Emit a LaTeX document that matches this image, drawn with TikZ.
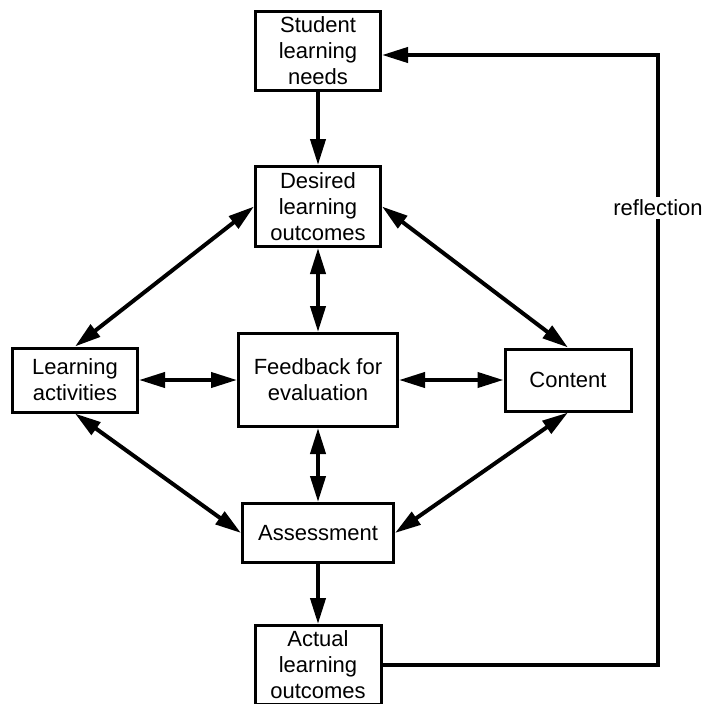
\documentclass[tikz,border=0pt]{standalone}
\usepackage{fontspec}
\setmainfont{Liberation Sans}
\usetikzlibrary{arrows.meta,positioning}

\begin{document}
\begin{tikzpicture}[x=1pt,y=-1pt,on grid,font=\fontsize{22}{26}\selectfont,>={Triangle[length=26pt,width=15pt]}]
	\tikzstyle{box}=[draw,line width=3pt,align=center,inner sep=0pt]
	\tikzstyle{link}=[line width=4pt]
	\useasboundingbox (0,0) rectangle (704,704);
	
	\node[box,minimum width=125pt,minimum height=79pt]  (SLN) at (318,51)              {Student\\learning\\needs};
	\node[box,minimum width=125pt,minimum height=80pt]  (DLO) [below=155.5pt of SLN]   {Desired\\learning\\outcomes};
	\node[box,minimum width=159pt,minimum height=93pt]  (FFE) [below=173.5pt of DLO]   {Feedback for\\evaluation};
	\node[box,minimum width=125pt,minimum height=64pt]  (LA)  [left=243pt of FFE]      {Learning\\activities};
	\node[box,minimum width=126pt,minimum height=62pt]  (CON) [right=250pt of FFE]     {Content};
	\node[box,minimum width=151pt,minimum height=59pt]  (ASM) [below=153pt of FFE]     {Assessment};
	\node[box,minimum width=126pt,minimum height=79pt]  (ALO) [below=132pt of ASM]     {Actual\\learning\\outcomes};
	\coordinate (RC) at (658,55);
	
	\draw[link,->] (SLN) -- (DLO);
	\draw[link,<->] (DLO) -- (FFE);
	\draw[link,<->] (FFE) -- (ASM);
	\draw[link,<->] (LA) -- (FFE);
	\draw[link,<->] (FFE) -- (CON);
	\draw[link,<->] (LA.north) -- (DLO.west);
	\draw[link,<->] (CON.north) -- (DLO.east);
	\draw[link,<->] (LA.south) -- (ASM.west);
	\draw[link,<->] (CON.south) -- (ASM.east);
	\draw[link,->] (ASM) -- (ALO);
	\draw[link,->] (ALO.east) -| (RC) -- ([yshift=-4pt]SLN.east);
	\node[fill=white,inner sep=3pt] (REF) at (658,208) {reflection};
\end{tikzpicture}
\end{document}
